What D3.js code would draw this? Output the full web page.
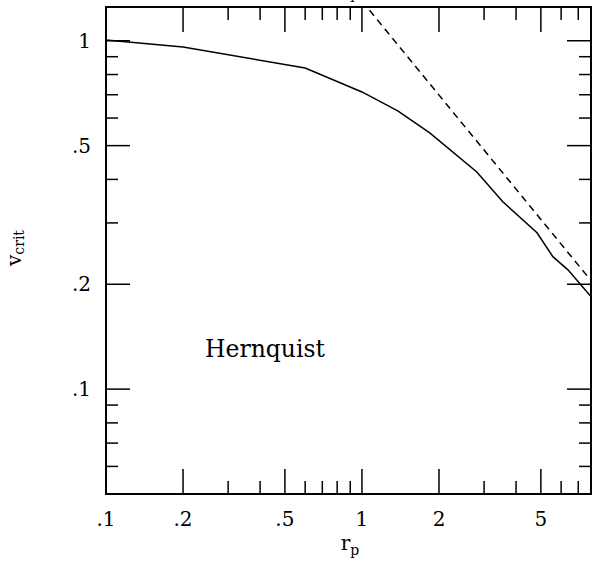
<!DOCTYPE html>
<html>
<head>
<meta charset="utf-8">
<script src="https://cdn.jsdelivr.net/npm/d3@7"></script>
<style>
  body { margin: 0; background: #fff; }
  svg { display: block; }
  text { font-family: "DejaVu Serif", "Liberation Serif", serif; fill: #000; }
</style>
</head>
<body>
<div id="chart"></div>
<script>
// solid curve: Hernquist critical velocity vs pericentre
var rp = [0.1, 0.2, 0.6, 1.0, 1.38, 1.84, 2.81, 3.55, 4.83, 5.57, 6.38, 7.91];
var vcrit = [1.005, 0.959, 0.835, 0.713, 0.629, 0.544, 0.420, 0.345, 0.281, 0.240, 0.220, 0.183];

// dashed reference line
var rpDash = [1.0, 8.0];
var vDash = [1.30, 0.2015];

var xMajor = [0.1, 0.2, 0.5, 1, 2, 5];
var xMajorLabels = [".1", ".2", ".5", "1", "2", "5"];
var xMinor = [0.3, 0.4, 0.6, 0.7, 0.8, 0.9, 3, 4, 6, 7];
var yMajor = [0.1, 0.2, 0.5, 1];
var yMajorLabels = [".1", ".2", ".5", "1"];
var yMinor = [0.06, 0.07, 0.08, 0.09, 0.3, 0.4, 0.6, 0.7, 0.8, 0.9];

var width = 592, height = 563;
var pLeft = 106, pRight = 591, pTop = 7, pBottom = 494;

var x = d3.scaleLog().domain([0.1, 7.85]).range([pLeft, pRight]);
var y = d3.scaleLog().domain([0.05, 1.25]).range([pBottom, pTop]);

var svg = d3.select("#chart")
    .append("svg")
    .attr("width", width)
    .attr("height", height);

svg.append("clipPath")
    .attr("id", "clip")
    .append("rect")
    .attr("x", pLeft)
    .attr("y", pTop)
    .attr("width", pRight - pLeft)
    .attr("height", pBottom - pTop);

var majorLen = 25, minorLen = 13;

// ticks on all four sides
function xTicks(vals, len) {
    vals.forEach(function(v) {
        svg.append("line")
            .attr("x1", x(v)).attr("x2", x(v))
            .attr("y1", pBottom).attr("y2", pBottom - len)
            .attr("stroke", "#000").attr("stroke-width", 1.5);
        svg.append("line")
            .attr("x1", x(v)).attr("x2", x(v))
            .attr("y1", pTop).attr("y2", pTop + len)
            .attr("stroke", "#000").attr("stroke-width", 1.5);
    });
}
function yTicks(vals, len) {
    vals.forEach(function(v) {
        svg.append("line")
            .attr("x1", pLeft).attr("x2", pLeft + len)
            .attr("y1", y(v)).attr("y2", y(v))
            .attr("stroke", "#000").attr("stroke-width", 1.5);
        svg.append("line")
            .attr("x1", pRight).attr("x2", pRight - len)
            .attr("y1", y(v)).attr("y2", y(v))
            .attr("stroke", "#000").attr("stroke-width", 1.5);
    });
}
xTicks(xMajor, majorLen);
xTicks(xMinor, minorLen);
yTicks(yMajor, majorLen - 1);
yTicks(yMinor, minorLen - 1);

svg.append("rect")
    .attr("x", pLeft).attr("y", pTop)
    .attr("width", pRight - pLeft).attr("height", pBottom - pTop)
    .attr("fill", "none")
    .attr("stroke", "#000")
    .attr("stroke-width", 2);

// tick labels
svg.selectAll(".xlab")
    .data(xMajor)
    .enter()
    .append("text")
    .attr("class", "xlab")
    .attr("x", function(d) { return x(d); })
    .attr("y", 526)
    .attr("text-anchor", "middle")
    .attr("font-size", 20)
    .text(function(d, i) { return xMajorLabels[i]; });

svg.selectAll(".ylab")
    .data(yMajor)
    .enter()
    .append("text")
    .attr("class", "ylab")
    .attr("x", 91)
    .attr("y", function(d) { return y(d) + 7; })
    .attr("text-anchor", "end")
    .attr("font-size", 20)
    .text(function(d, i) { return yMajorLabels[i]; });

// curves
var line = d3.line()
    .x(function(d) { return x(d[0]); })
    .y(function(d) { return y(d[1]); });

var g = svg.append("g").attr("clip-path", "url(#clip)");

g.append("path")
    .datum(d3.zip(rp, vcrit))
    .attr("d", line)
    .attr("fill", "none")
    .attr("stroke", "#000")
    .attr("stroke-width", 1.5);

g.append("path")
    .datum(d3.zip(rpDash, vDash))
    .attr("d", line)
    .attr("fill", "none")
    .attr("stroke", "#000")
    .attr("stroke-width", 1.5)
    .attr("stroke-dasharray", "7,5");

// axis titles
var xt = svg.append("text")
    .attr("x", 350)
    .attr("y", 550)
    .attr("text-anchor", "middle")
    .attr("font-size", 20);
xt.append("tspan").text("r");
xt.append("tspan").attr("font-size", 14).attr("dy", 5).text("p");

// clipped title peeking at the top
var tt = svg.append("text")
    .attr("x", 350)
    .attr("y", -6)
    .attr("text-anchor", "middle")
    .attr("font-size", 20);
tt.append("tspan").text("r");
tt.append("tspan").attr("font-size", 14).attr("dy", 5).text("p");

var yt = svg.append("text")
    .attr("transform", "translate(21,248) rotate(-90)")
    .attr("text-anchor", "middle")
    .attr("font-size", 20);
yt.append("tspan").text("v");
yt.append("tspan").attr("font-size", 14).attr("dy", 3).text("crit");

svg.append("text")
    .attr("x", 205)
    .attr("y", 357)
    .attr("font-size", 23.5)
    .text("Hernquist");
</script>
</body>
</html>
